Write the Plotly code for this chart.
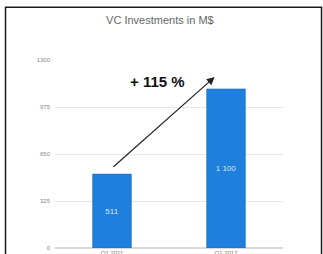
import plotly.graph_objects as go

categories = ["Q1 2011", "Q1 2012"]
values = [511, 1100]
value_labels = ["511", "1 100"]
y_ticks = [0, 325, 650, 975, 1300]
y_tick_labels = ["0", "325", "650", "975", "1300"]
growth_label = "+ 115 %"
title = "VC Investments in M$"

fig = go.Figure()
fig.add_trace(go.Bar(
    x=categories, y=values, text=value_labels,
    textposition="inside", insidetextanchor="middle",
    textfont=dict(size=8, color="#d6e6f7", family="Liberation Sans"),
    marker=dict(color="#1f7fdc", line=dict(color="#1565c0", width=0.5)),
    width=0.34,
))

fig.add_annotation(
    x=0.9, y=1182, ax=0.0, ay=553,
    xref="x", yref="y", axref="x", ayref="y",
    showarrow=True, arrowhead=2, arrowsize=1.3, arrowwidth=1.2,
    arrowcolor="#222222", text="",
)
fig.add_annotation(
    x=0.4, y=1150, xref="x", yref="y", text=f"<b>{growth_label}</b>",
    showarrow=False, font=dict(size=15, color="#111111", family="Liberation Sans"),
)

fig.add_shape(
    type="rect", xref="paper", yref="paper",
    x0=-0.217, x1=1.169, y0=-0.2, y1=1.28,
    line=dict(color="#1a1a1a", width=1.5), fillcolor="rgba(0,0,0,0)",
    layer="above",
)

fig.update_layout(
    width=323, height=254,
    margin=dict(l=55, r=40, t=60, b=6, autoexpand=False),
    paper_bgcolor="white", plot_bgcolor="white",
    showlegend=False,
    title=dict(text=title, x=0.495, xanchor="center", yref="container", y=0.92, yanchor="middle",
               font=dict(size=11, color="#666666", family="Liberation Sans")),
    font=dict(family="Liberation Sans"),
)
fig.update_xaxes(
    showgrid=False, tickfont=dict(size=6, color="#777777"),
    showline=False, ticks="", automargin=False,
)
fig.update_yaxes(
    range=[0, 1300], tickvals=y_ticks, ticktext=y_tick_labels,
    showgrid=True, gridcolor="#e6e6e6", gridwidth=1,
    zeroline=True, zerolinecolor="#d8d8d8",
    tickfont=dict(size=6, color="#888888"), ticks="", ticklabelstandoff=4,
    automargin=False,
)

fig.write_html(
    "out.html",
    config={"displayModeBar": False},
    post_script="document.body.style.margin='0';document.body.style.overflow='hidden';",
)
